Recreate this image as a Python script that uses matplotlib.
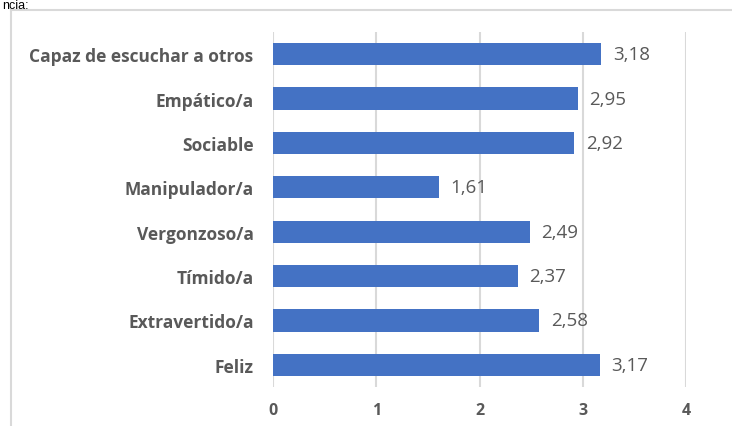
import matplotlib.pyplot as plt
from matplotlib.lines import Line2D

categories = ["Capaz de escuchar a otros", "Empático/a", "Sociable", "Manipulador/a",
              "Vergonzoso/a", "Tímido/a", "Extravertido/a", "Feliz"]
values = [3.18, 2.95, 2.92, 1.61, 2.49, 2.37, 2.58, 3.17]
x_ticks = [0, 1, 2, 3, 4]

BAR_COLOR = "#4472C4"
TEXT_COLOR = "#595959"
GRID_COLOR = "#D9D9D9"

plt.rcParams['font.family'] = ['Open Sans', 'DejaVu Sans']

fig = plt.figure(figsize=(7.32, 4.27), dpi=100)
ax = fig.add_axes([273 / 732, 1 - 388 / 427, 413 / 732, 355 / 427])

pos = list(range(len(categories)))
ax.barh(pos, values, height=0.5, color=BAR_COLOR, zorder=3)
for p, v in zip(pos, values):
    ax.text(v + 0.11, p, f"{v:.2f}".replace(".", ","), va="center", ha="left",
            fontsize=13.5, color=TEXT_COLOR)

ax.set_xlim(0, 4)
ax.set_ylim(len(categories) - 0.5, -0.5)
ax.set_xticks(x_ticks)
ax.set_xticklabels([str(t) for t in x_ticks], fontsize=11.5, fontweight="bold", color=TEXT_COLOR)
ax.set_yticks(pos)
ax.set_yticklabels(categories, fontsize=12.5, fontweight="bold", color=TEXT_COLOR)
ax.tick_params(length=0, pad=11, axis="x")
ax.tick_params(length=0, pad=14, axis="y")
ax.grid(axis="x", color=GRID_COLOR, linewidth=1.5, zorder=0)
for s in ax.spines.values():
    s.set_visible(False)

# chart frame (left and top edges visible)
fig.add_artist(Line2D([11 / 732, 11 / 732], [0, 1 - 11 / 427], color=GRID_COLOR, linewidth=1.5))
fig.add_artist(Line2D([11 / 732, 1], [1 - 11 / 427, 1 - 11 / 427], color=GRID_COLOR, linewidth=1.5))

# document text just above the chart
fig.text(2 / 732, 1 - 9 / 427, "ncia:", fontsize=9, color="black", family=['Liberation Sans'],
         ha="left", va="baseline")

fig.savefig("out.png", dpi=100)
